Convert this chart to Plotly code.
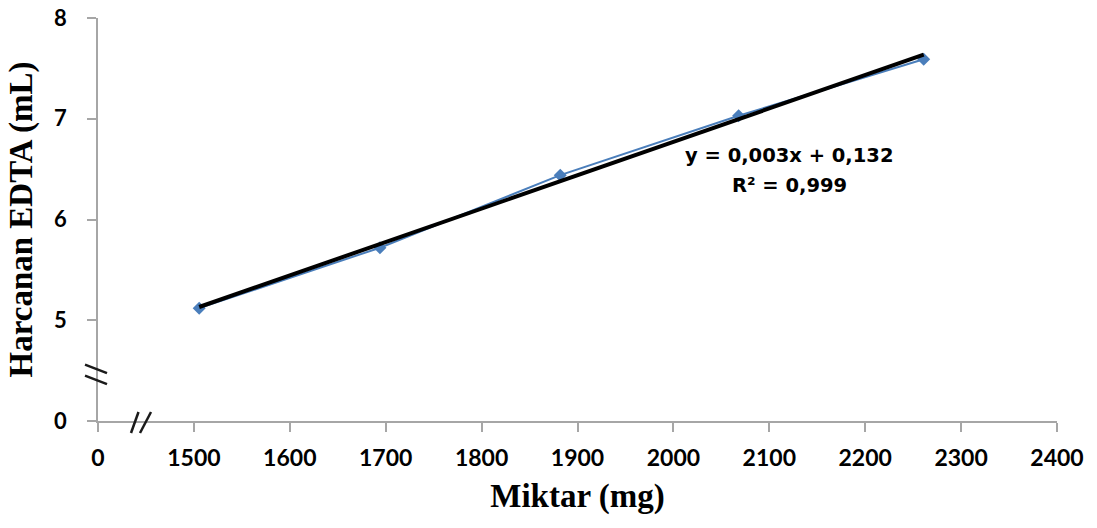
import numpy as np
import plotly.graph_objects as go

# Sample mass (mg) and EDTA volume consumed (mL)
miktar = [1505.5, 1694, 1882, 2068, 2261]
harcanan = [5.12, 5.72, 6.44, 7.03, 7.59]

# Axis ticks; the lowest tick on each axis stands in for a broken zero
x_tickvals = [1400, 1500, 1600, 1700, 1800, 1900, 2000, 2100, 2200, 2300, 2400]
x_ticktext = ["0", "1500", "1600", "1700", "1800", "1900", "2000", "2100", "2200", "2300", "2400"]
y_tickvals = [4, 5, 6, 7, 8]
y_ticktext = ["0", "5", "6", "7", "8"]

equation_text = "y = 0,003x + 0,132"
r2_text = "R² = 0,999"

# Linear trendline fitted over the measured range
slope, intercept = np.polyfit(miktar, harcanan, 1)
trend_x = [min(miktar), max(miktar)]
trend_y = [slope * v + intercept for v in trend_x]

axis_grey = "#a6a6a6"
tick_font = "Lato"

fig = go.Figure()
fig.add_trace(go.Scatter(
    x=miktar, y=harcanan, mode="lines+markers",
    line=dict(color="#4a7ebb", width=2),
    marker=dict(symbol="diamond", size=10, color="#4a7ebb"),
    showlegend=False, hoverinfo="skip",
))
fig.add_trace(go.Scatter(
    x=trend_x, y=trend_y, mode="lines",
    line=dict(color="#000000", width=4),
    showlegend=False, hoverinfo="skip",
))

fig.update_xaxes(
    range=[1400, 2400], tickvals=x_tickvals, ticktext=x_ticktext,
    showgrid=False, zeroline=False, automargin=False,
    showline=True, linecolor=axis_grey, linewidth=1.5,
    ticks="outside", ticklen=9, tickwidth=1.5, tickcolor=axis_grey,
    tickfont=dict(family=tick_font, size=23, color="#000000", weight="bold"),
    ticklabelstandoff=7,
    title=dict(text="Miktar (mg)", standoff=14,
               font=dict(family="Liberation Serif", size=33, color="#000000", weight="bold")),
)
fig.update_yaxes(
    range=[4, 8], tickvals=y_tickvals, ticktext=y_ticktext,
    showgrid=False, zeroline=False, automargin=False,
    showline=True, linecolor=axis_grey, linewidth=1.5,
    ticks="outside", ticklen=9, tickwidth=1.5, tickcolor=axis_grey,
    tickfont=dict(family=tick_font, size=22, color="#000000", weight="bold"),
    ticklabelstandoff=16,
    title=dict(text="Harcanan EDTA (mL)", standoff=12,
               font=dict(family="Liberation Serif", size=33, color="#000000", weight="bold")),
)

# Equation and R² labels next to the trendline
fig.add_annotation(x=2121, y=6.64, text=equation_text, showarrow=False,
                   font=dict(family="DejaVu Sans", size=19.5, color="#000000", weight="bold"))
fig.add_annotation(x=2121, y=6.34, text=r2_text, showarrow=False,
                   font=dict(family="DejaVu Sans", size=19.5, color="#000000", weight="bold"))

# Axis-break marks ("//") in paper coordinates
plot_l, plot_r, plot_t, plot_b = 98, 1057, 17.5, 421.5


def px_to_paper(px, py):
    return (px - plot_l) / (plot_r - plot_l), (plot_b - py) / (plot_b - plot_t)


break_segments = [
    ((85, 365), (107, 373.5)),
    ((85, 376), (107, 384.5)),
    ((131, 433.5), (138.5, 412.5)),
    ((140, 433.5), (151, 412.5)),
]
for (ax0, ay0), (ax1, ay1) in break_segments:
    x0, y0 = px_to_paper(ax0, ay0)
    x1, y1 = px_to_paper(ax1, ay1)
    fig.add_shape(type="line", xref="paper", yref="paper",
                  x0=x0, y0=y0, x1=x1, y1=y1,
                  line=dict(color="#1a1a1a", width=2.5))

fig.update_layout(
    width=1097, height=528,
    margin=dict(l=plot_l, r=1097 - plot_r, t=plot_t, b=528 - plot_b),
    paper_bgcolor="#ffffff", plot_bgcolor="#ffffff",
)

fig.write_html("out.html")
